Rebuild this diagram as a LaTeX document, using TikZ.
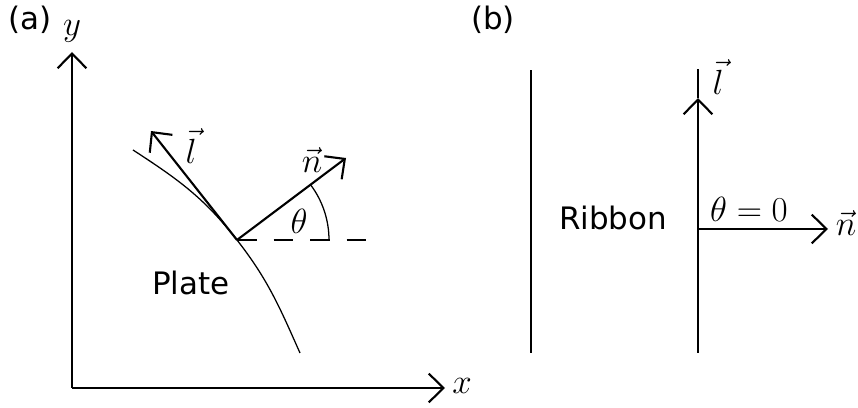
\documentclass[tikz,border=0pt]{standalone}
\usepackage{fontspec}
\setmainfont{DejaVu Sans}
\usepackage{amsmath}
\usetikzlibrary{arrows.meta}
\tikzset{
  axis/.style   = {line width=1.5pt, -{Straight Barb[length=10.5pt, width=20.5pt]}},
  vec/.style    = {line width=1.5pt, -{Straight Barb[length=10.5pt, width=20.5pt]}},
  thinln/.style = {line width=0.9pt},
  dashln/.style = {line width=1.5pt, dash pattern=on 14pt off 12pt},
  txt/.style    = {font=\fontsize{22}{26}\selectfont, inner sep=0pt},
  mth/.style    = {font=\fontsize{25}{30}\selectfont, inner sep=0pt},
}

\begin{document}
\begin{tikzpicture}[x=0.025cm, y=0.025cm]
\useasboundingbox (0,0) rectangle (858,408);

%% ---------------- (a) plate ----------------
\node[txt] (tagA) at (30,388) {(a)};

\coordinate (O)  at (72,20);
\coordinate (yT) at (72,356);
\coordinate (xT) at (445,20);
\draw[axis] (O) -- (yT);
\draw[axis] (O) -- (xT);
\node[mth] (ylab) at (72,377) {$y$};
\node[mth] (xlab) at (462,22) {$x$};

% edge of the plate
\coordinate (cA) at (133,258);
\coordinate (P)  at (237,168);
\coordinate (cB) at (300,55);
\draw[thinln] (cA) to[out=-33, in=128] (P) to[out=-52, in=114] (cB);

% tangent and normal vectors
\coordinate (lT) at (151,277);
\coordinate (nT) at (346,250);
\coordinate (hE) at (367,168);
\draw[vec] (P) -- (lT);
\draw[vec] (P) -- (nT);
\draw[dashln] (P) -- (hE);
\draw[thinln] (P) ++(92,0) arc (0:37:92);

\node[mth] (lA)  at (191,262) {$\vec{l}$};
\node[mth] (nA)  at (312,248) {$\vec{n}$};
\node[mth] (thA) at (299,187) {$\theta$};
\node[txt] (plate) at (191,125) {Plate};

%% ---------------- (b) ribbon ----------------
\node[txt] (tagB) at (493,388) {(b)};

\coordinate (rLb) at (531,55);
\coordinate (rLt) at (531,338);
\draw[thinln] (rLb) -- (rLt);

\coordinate (rRb) at (698,55);
\coordinate (lB)  at (698,310);
\coordinate (rRt) at (698,339);
\coordinate (Q)   at (698,179);
\coordinate (nB)  at (828,179);
\draw[vec] (rRb) -- (lB);
\draw[line width=1.5pt] (lB) -- (rRt);
\draw[vec] (Q) -- (nB);

\node[mth] (lLab)  at (718,331) {$\vec{l}$};
\node[mth] (nLab)  at (846,185) {$\vec{n}$};
\node[mth] (th0)   at (749,199) {$\theta=0$};
\node[txt] (ribbon) at (613,190) {Ribbon};

\end{tikzpicture}
\end{document}
